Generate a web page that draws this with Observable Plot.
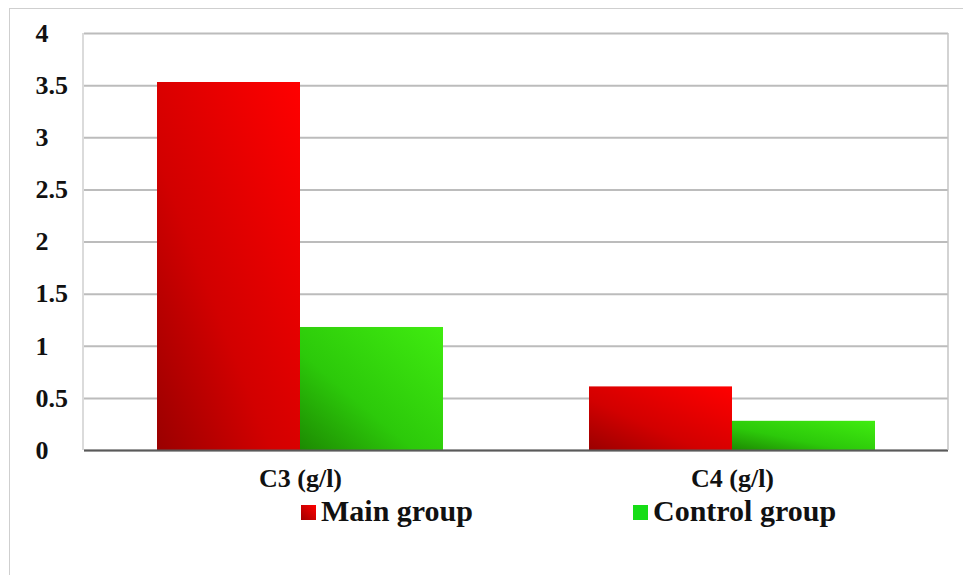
<!DOCTYPE html>
<html>
<head>
<meta charset="utf-8">
<script src="https://cdn.jsdelivr.net/npm/d3@7"></script>
<script src="https://cdn.jsdelivr.net/npm/@observablehq/plot@0.6"></script>
<style>
  html, body { margin: 0; padding: 0; background: #fff; }
  #wrap { position: relative; width: 963px; height: 575px; overflow: hidden; font-family: 'Liberation Serif', serif; }
  .edge { position: absolute; background: #cfcfcf; }
  .legend-item { position: absolute; display: flex; align-items: center; font-family: 'Liberation Serif', serif; font-size: 30px; font-weight: bold; color: #111; line-height: 30px; white-space: nowrap; }
  .legend-item .sw { width: 15px; height: 15px; margin-right: 5px; margin-top: 2px; }
  svg text { font-family: 'Liberation Serif', serif; }
</style>
</head>
<body>
<div id="wrap">
  <div class="edge" style="left:9px; top:8px; width:954px; height:1px;"></div>
  <div class="edge" style="left:9px; top:8px; width:1px; height:567px;"></div>
</div>
<script>
// Complement components by group
const categories = ["C3 (g/l)", "C4 (g/l)"];
const groups = ["Main group", "Control group"];
const mainValues = [3.53, 0.61];
const controlValues = [1.18, 0.28];
const yTicks = [0, 0.5, 1, 1.5, 2, 2.5, 3, 3.5, 4];

const rows = categories.flatMap((cat, i) => [
  {cat, group: groups[0], value: mainValues[i]},
  {cat, group: groups[1], value: controlValues[i]}
]);

const gradientFor = {"Main group": "url(#grad-main)", "Control group": "url(#grad-control)"};
const serif = "Liberation Serif";

const W = 963, H = 500;
const mTop = 33, mBottom = 50, mLeft = 83, mRight = 15;

const chart = Plot.plot({
  width: W,
  height: H,
  marginTop: mTop,
  marginBottom: mBottom,
  marginLeft: mLeft,
  marginRight: mRight,
  style: {fontFamily: serif, background: "transparent", color: "#111", overflow: "visible"},
  fx: {domain: categories, padding: 0, label: null},
  x: {domain: groups, paddingInner: 0, paddingOuter: 0.507, axis: null},
  y: {domain: [0, 4], label: null},
  color: {type: "identity"},
  marks: [
    Plot.gridY(yTicks, {stroke: "#bcbcbc", strokeOpacity: 1, strokeWidth: 2}),
    Plot.axisY(yTicks, {
      anchor: "left", tickSize: 0, tickPadding: 49, textAnchor: "start",
      fontSize: 26, fontWeight: "bold", label: null, tickFormat: d => String(d)
    }),
    Plot.barY(rows, {fx: "cat", x: "group", y: "value", fill: d => gradientFor[d.group]}),
    Plot.ruleY([0], {stroke: "#5a5a5a", strokeWidth: 2}),
    Plot.axisFx({anchor: "bottom", tickSize: 0, tickPadding: 18, fontSize: 26, fontWeight: "bold", label: null})
  ]
});

const svg = d3.select(chart);
svg.attr("font-family", serif);

// Gradient fills for the bars: darker toward the lower left corner
const defs = svg.insert("defs", ":first-child");
function addGradient(id, stops) {
  const g = defs.append("linearGradient").attr("id", id)
    .attr("x1", 0).attr("y1", 1).attr("x2", 1).attr("y2", 0);
  stops.forEach(([o, c]) => g.append("stop").attr("offset", o).attr("stop-color", c));
}
addGradient("grad-main", [["0%", "#9a0000"], ["40%", "#d20000"], ["100%", "#ff0000"]]);
addGradient("grad-control", [["0%", "#1d8a02"], ["40%", "#2cc90a"], ["100%", "#40ec10"]]);

// Plot-area side borders
svg.append("line").attr("x1", mLeft).attr("x2", mLeft).attr("y1", mTop).attr("y2", H - mBottom)
  .attr("stroke", "#cfcfcf").attr("stroke-width", 1.5);
svg.append("line").attr("x1", W - mRight).attr("x2", W - mRight).attr("y1", mTop).attr("y2", H - mBottom)
  .attr("stroke", "#c4c4c4").attr("stroke-width", 1.5);

chart.style.position = "absolute";
chart.style.left = "0px";
chart.style.top = "0px";
const wrap = document.getElementById("wrap");
wrap.appendChild(chart);

// Legend
const legendPlaces = [{left: 301, top: 496}, {left: 633, top: 496}];
const swatchFill = {"Main group": "linear-gradient(45deg, #a00000, #ff0000)", "Control group": "#16dd16"};
groups.forEach((g, i) => {
  const item = document.createElement("div");
  item.className = "legend-item";
  item.style.left = legendPlaces[i].left + "px";
  item.style.top = legendPlaces[i].top + "px";
  const sw = document.createElement("span");
  sw.className = "sw";
  sw.style.background = swatchFill[g];
  const label = document.createElement("span");
  label.textContent = g;
  item.appendChild(sw);
  item.appendChild(label);
  wrap.appendChild(item);
});
</script>
</body>
</html>
